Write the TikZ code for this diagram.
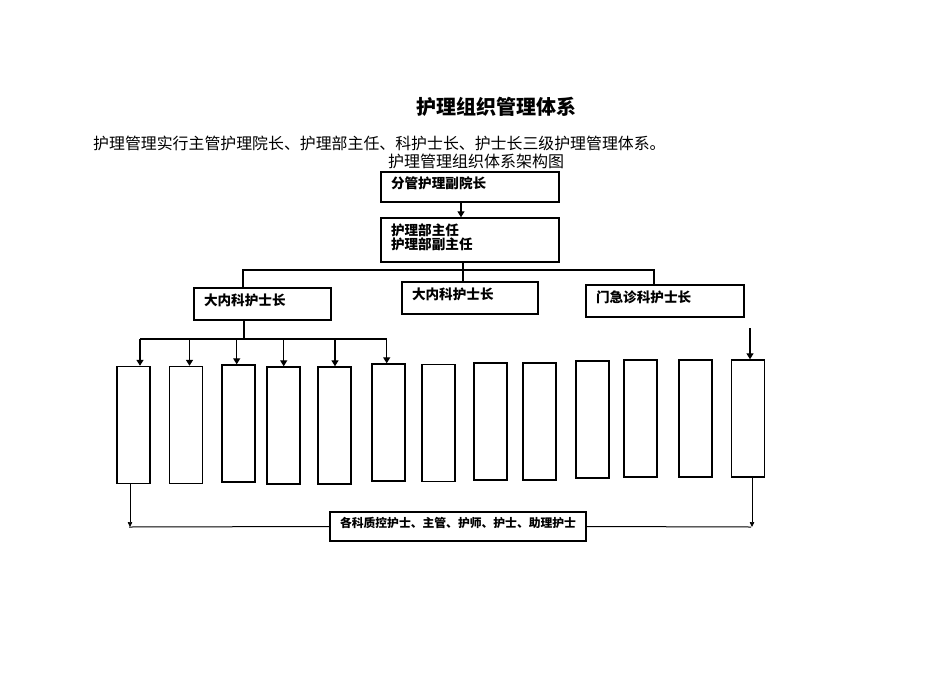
\documentclass[tikz,border=0pt]{standalone}
\usepackage{fontspec}
\setmainfont{Noto Sans CJK SC}
\usetikzlibrary{arrows.meta}
\newcommand\dunhao{\makebox[1em][l]{、}}
\newcommand\juhao{\makebox[1em][l]{。}}
\begin{document}
\begin{tikzpicture}[x=1pt,y=-1pt,
  box/.style={draw,line width=1.4pt,inner xsep=10pt,inner ysep=0pt,align=left,
    font=\fontsize{13.6}{13.5}\selectfont\bfseries,text depth=8pt},
  col/.style={draw,line width=1.4pt,inner sep=0pt,minimum width=33pt,minimum height=117pt},
  conn/.style={line width=1.3pt},
  arr/.style={line width=1.3pt,-{Triangle[length=6pt,width=7pt]}},
  thinarr/.style={line width=0.7pt,-{Triangle[length=5pt,width=4.5pt]}},
  thinline/.style={line width=1pt}]
\useasboundingbox (0,0) rectangle (950,672);

% texts
\node[inner sep=0pt,font=\fontsize{20}{24}\selectfont\bfseries] (title) at (496,107) {护理组织管理体系};
\node[inner sep=0pt,anchor=west,font=\fontsize{15.9}{18}\selectfont] (intro) at (93,143) {护理管理实行主管护理院长\dunhao 护理部主任\dunhao 科护士长\dunhao 护士长三级护理管理体系\juhao};
\node[inner sep=0pt,font=\fontsize{16}{18}\selectfont] (cap) at (476,161) {护理管理组织体系架构图};

% upper boxes
\node[box,text width=158pt,minimum height=30pt] (b1) at (470,187) {分管护理副院长};
\node[box,text width=158pt,minimum height=44pt,text depth=20pt] (b2) at (470,240) {护理部主任\\护理部副主任};
\node[box,text width=117pt,minimum height=32pt] (b3) at (262.5,304) {大内科护士长};
\node[box,text width=116pt,minimum height=32pt] (b4) at (470,298) {大内科护士长};
\node[box,text width=138pt,minimum height=32pt] (b5) at (665,301) {门急诊科护士长};

% columns
\node[col] (c1) at (133.5,425) {};
\node[col] (c2) at (186,425) {};
\node[col] (c3) at (238.5,423.5) {};
\node[col] (c4) at (283.5,425.5) {};
\node[col] (c5) at (334.5,425.5) {};
\node[col] (c6) at (388.5,422.5) {};
\node[col] (c7) at (438.5,423) {};
\node[col] (c8) at (490.5,421.5) {};
\node[col] (c9) at (539.5,421.5) {};
\node[col] (c10) at (592.5,419.5) {};
\node[col] (c11) at (640.5,418.5) {};
\node[col] (c12) at (695.5,418.5) {};
\node[col] (c13) at (748,418.5) {};

% bottom box
\node[draw,line width=1.4pt,minimum width=256pt,minimum height=29pt,inner sep=0pt,
  font=\fontsize{11.8}{13}\selectfont\bfseries,text depth=8pt] (q) at (458,526.5) {各科质控护士\dunhao 主管\dunhao 护师\dunhao 护士\dunhao 助理护士};

% connectors upper
\draw[arr] ([xshift=-9pt]b1.south) -- ([xshift=-9pt]b2.north);
\coordinate (bL) at (243,270);
\coordinate (bM) at (463,270);
\coordinate (bR) at (654,270);
\draw[conn] (b2.south -| bM) -- (b4.north -| bM);
\draw[conn] (b3.north -| bL) -- (bL) -- (bR) -- (b5.north -| bR);

% connectors from b3 to columns
\coordinate (k0) at (244,339);
\coordinate (k1) at (140,339);
\coordinate (k2) at (189.5,339);
\coordinate (k3) at (236.7,339);
\coordinate (k4) at (283.7,339);
\coordinate (k5) at (335,339);
\coordinate (k6) at (386.7,339);
\draw[conn] (b3.south -| k0) -- (k0);
\draw[conn] (k1) -- (k6);
\draw[arr] (k1) -- (c1.north -| k1);
\draw[arr] (k2) -- (c2.north -| k2);
\draw[arr] (k3) -- (c3.north -| k3);
\draw[arr] (k4) -- (c4.north -| k4);
\draw[arr] (k5) -- (c5.north -| k5);
\draw[arr] (k6) -- (c6.north -| k6);

% arrow into last column
\coordinate (t13) at (750,328);
\draw[arr] (t13) -- (c13.north -| t13);

% bottom connectors
\coordinate (m1) at (130,527);
\coordinate (m2) at (752,527);
\draw[thinarr] (c1.south -| m1) -- (m1);
\draw[thinarr] (c13.south -| m2) -- (m2);
\draw[thinline] ([xshift=-1pt]m1) -- (q.west);
\draw[thinline] (q.east) -- ([xshift=-1pt]m2);
\end{tikzpicture}
\end{document}
